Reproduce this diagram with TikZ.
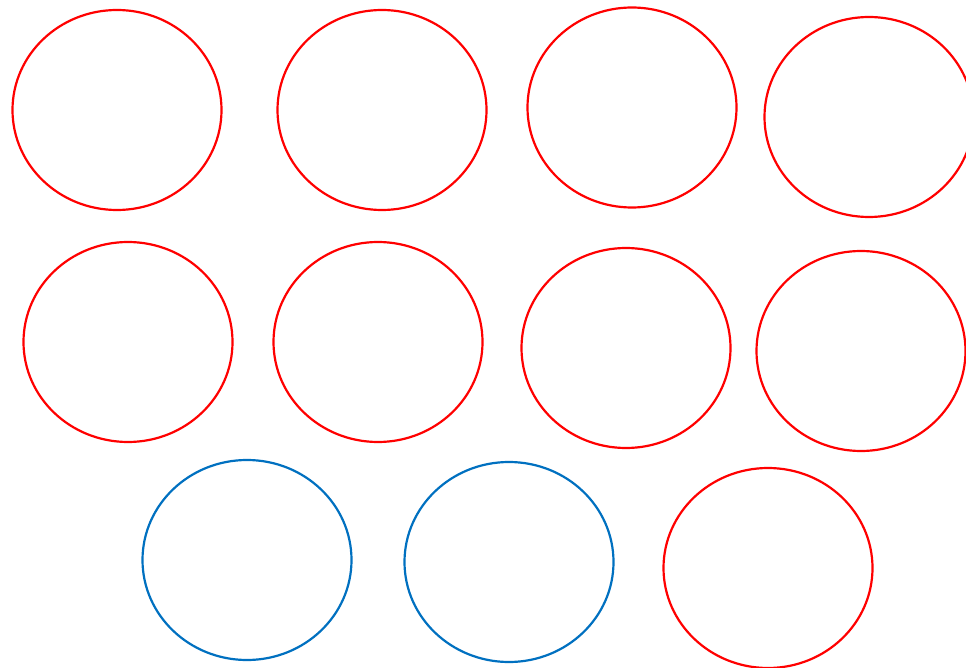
\documentclass[tikz,border=0pt]{standalone}
\usetikzlibrary{shapes.geometric}
\definecolor{ringred}{HTML}{FF0000}
\definecolor{ringblue}{HTML}{0070C0}
\begin{document}
\begin{tikzpicture}[x=1pt,y=-1pt,
  ring/.style={ellipse,draw,line width=2.2pt,minimum width=209pt,minimum height=200pt,inner sep=0pt},
  redring/.style={ring,draw=ringred},
  bluering/.style={ring,draw=ringblue}]
\useasboundingbox (0,0) rectangle (966,668);
\node[redring] (r1) at (117,110) {};
\node[redring] (r2) at (382,110) {};
\node[redring] (r3) at (632,107.5) {};
\node[redring] (r4) at (869,117) {};
\node[redring] (r5) at (128,342) {};
\node[redring] (r6) at (378,342) {};
\node[redring] (r7) at (626,348) {};
\node[redring] (r8) at (861,351) {};
\node[bluering] (b1) at (247,560) {};
\node[bluering] (b2) at (509,562) {};
\node[redring] (r9) at (768,568) {};
\end{tikzpicture}
\end{document}
